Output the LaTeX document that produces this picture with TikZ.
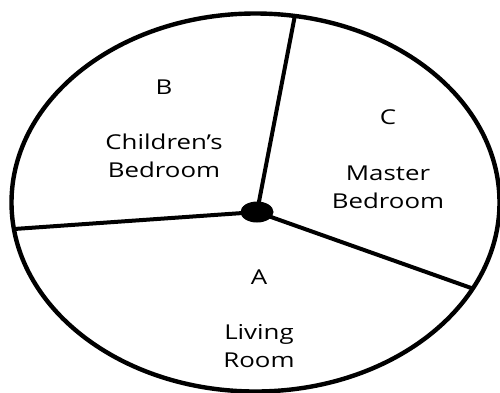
\documentclass[tikz,border=0pt]{standalone}
\usepackage{fontspec}
\setmainfont{Open Sans}
\usetikzlibrary{shapes.geometric}
\tikzset{
  wall/.style={line width=4pt, black},
  rim/.style={line width=4.4pt, black},
  lbl/.style={font=\fontsize{20.5}{28}\selectfont, align=center, xscale=1.26, inner sep=0pt, text=black},
  hubdot/.style={ellipse, fill=black, minimum width=33pt, minimum height=21pt, inner sep=0pt}
}
\begin{document}
\begin{tikzpicture}[x=1pt, y=-1pt]
\useasboundingbox (0,0) rectangle (500,392);
\draw[rim] (255.5,202.5) ellipse [x radius=244, y radius=189];
\coordinate (top) at (295,15);
\coordinate (left) at (14,229);
\coordinate (right) at (474,289);
\node[hubdot] (hub) at (257,212) {};
\draw[wall] (hub.center) -- (top);
\draw[wall] (hub.center) -- (left);
\draw[wall] (hub.center) -- (right);
\node[lbl] (lB) at (164,87) {B};
\node[lbl] (nB) at (164,156) {Children’s\\Bedroom};
\node[lbl] (lC) at (388,117) {C};
\node[lbl] (nC) at (388,187) {Master\\Bedroom};
\node[lbl] (lA) at (259,277) {A};
\node[lbl] (nA) at (259,346) {Living\\Room};
\end{tikzpicture}
\end{document}
